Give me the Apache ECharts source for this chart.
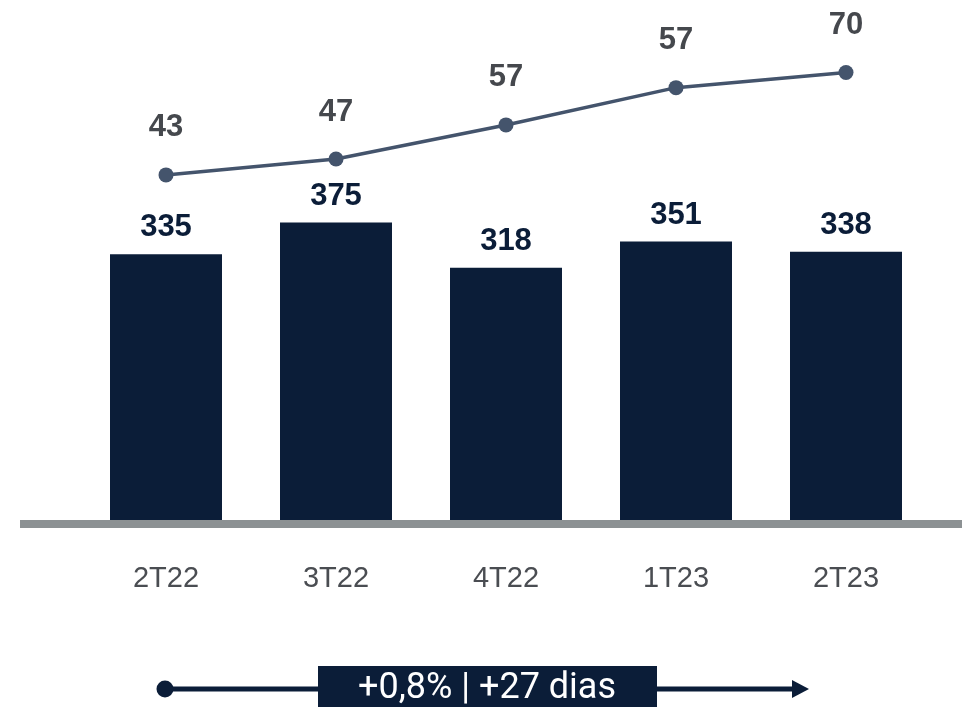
<!DOCTYPE html>
<html>
<head>
<meta charset="utf-8">
<title>2T22 - 2T23</title>
<script src="https://cdn.jsdelivr.net/npm/echarts@6/dist/echarts.min.js"></script>
<style>
  html, body { margin: 0; padding: 0; background: #fff; }
  #main { width: 962px; height: 707px; }
</style>
</head>
<body>
<div id="main"></div>
<script>
// dados do grafico
var trimestres = ['2T22', '3T22', '4T22', '1T23', '2T23'];
var barras = [335, 375, 318, 351, 338];
// rotulos da linha e altura em que a linha aparece (escala das barras)
var linhaRotulos = [43, 47, 57, 57, 70];
var linhaNivel = [435, 455, 498, 545, 564];
var variacao = '+0,8% | +27 dias';

var navy = '#0b1d38';

var myChart = echarts.init(document.getElementById('main'));

var option = {
    animation: false,
    grid: { left: 81, right: 31, top: 44, bottom: 187 },
    xAxis: {
        type: 'category',
        data: trimestres,
        axisLine: { show: false },
        axisTick: { show: false },
        axisLabel: {
            margin: 44,
            fontSize: 29,
            color: '#4a4d52',
            fontFamily: 'Liberation Sans'
        }
    },
    yAxis: {
        type: 'value',
        min: 0,
        max: 600,
        show: false,
        splitLine: { show: false }
    },
    series: [
        {
            type: 'bar',
            data: barras,
            barWidth: 112,
            itemStyle: { color: navy },
            label: {
                show: true,
                position: 'top',
                distance: 11,
                fontSize: 31,
                fontWeight: 'bold',
                color: navy,
                fontFamily: 'Liberation Sans'
            }
        },
        {
            type: 'line',
            data: linhaNivel,
            symbol: 'circle',
            symbolSize: 15,
            lineStyle: { color: '#44546c', width: 3.5 },
            itemStyle: { color: '#44546c' },
            label: {
                show: true,
                position: 'top',
                distance: 24,
                fontSize: 31,
                fontWeight: 'bold',
                color: '#45484d',
                fontFamily: 'Liberation Sans',
                formatter: function (p) { return linhaRotulos[p.dataIndex]; }
            }
        }
    ],
    graphic: [
        // linha de base
        { type: 'rect', shape: { x: 20, y: 520, width: 942, height: 8 }, style: { fill: '#8c9193' } },
        // seta inferior
        { type: 'line', shape: { x1: 165, y1: 689, x2: 796, y2: 689 }, style: { stroke: navy, lineWidth: 5 } },
        { type: 'circle', shape: { cx: 165, cy: 689, r: 8.5 }, style: { fill: navy } },
        { type: 'polygon', shape: { points: [[792, 680], [809, 689], [792, 698]] }, style: { fill: navy } },
        { type: 'rect', shape: { x: 318, y: 666, width: 339, height: 41 }, style: { fill: navy } },
        {
            type: 'text', x: 487, y: 689,
            style: {
                text: variacao, fill: '#fff', fontSize: 36,
                fontFamily: 'Roboto', align: 'center', verticalAlign: 'middle'
            }
        }
    ]
};

myChart.setOption(option);
</script>
</body>
</html>
